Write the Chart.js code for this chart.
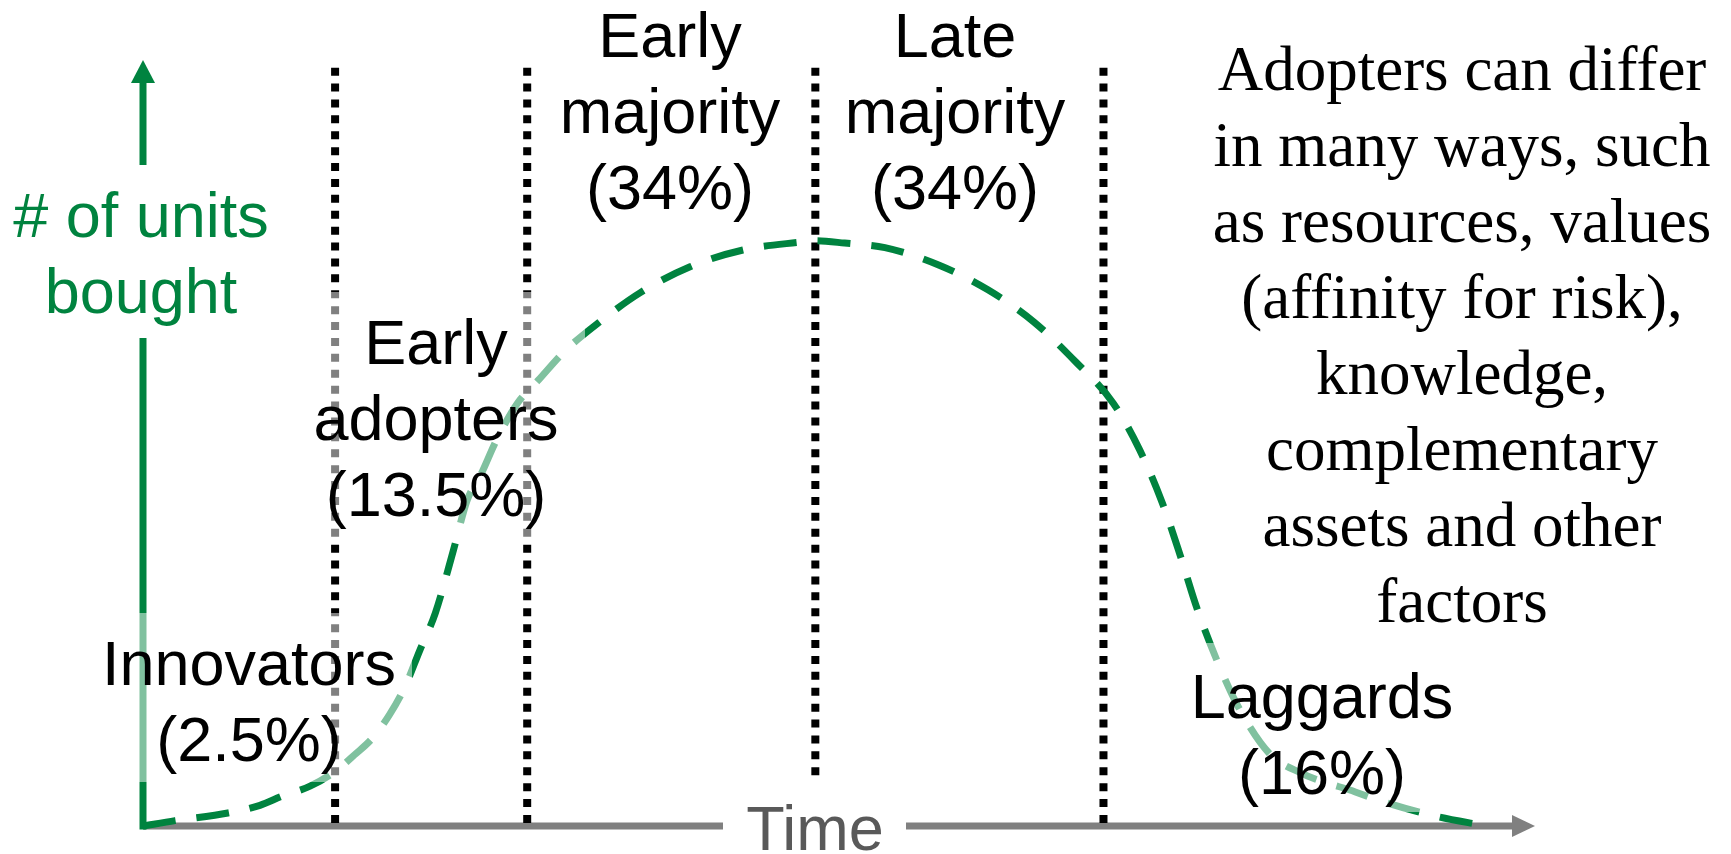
<!DOCTYPE html>
<html>
<head>
<meta charset="utf-8">
<script src="https://cdn.jsdelivr.net/npm/chart.js@4.4.1/dist/chart.umd.min.js"></script>
<style>
  body { margin: 0; background: #fff; }
  canvas { display: block; }
</style>
</head>
<body>
<canvas id="chart" width="1731" height="854"></canvas>
<script>
// adoption curve (time and units both on a 0-100 scale)
const curveTime = [0, 2.3, 6.1, 8.4, 10.0, 12.0, 13.7, 15.2, 16.5, 17.7, 18.8, 19.9, 21.0, 22.3, 23.3, 24.2,
  25.4, 26.9, 28.4, 30.3, 32.8, 35.7, 39.3, 43.1, 47.1, 48.3, 50.4, 53.3, 57.2, 60.7, 64.0, 67.0,
  69.7, 71.6, 73.2, 74.5, 75.7, 77.2, 78.7, 80.9, 83.2, 84.9, 86.7, 88.7, 92.6, 96.5];
const curveUnits = [0, 0.7, 1.7, 2.7, 3.9, 5.2, 7.0, 9.3, 11.5, 14.5, 18.1, 23.0, 27.8, 36.0, 42.6, 45.6,
  50.4, 55.2, 58.2, 62.0, 65.8, 69.6, 73.0, 75.2, 76.2, 76.4, 76.1, 75.5, 73.2, 70.0, 65.8, 60.6,
  55.2, 49.1, 42.3, 35.4, 28.5, 21.4, 15.5, 9.5, 6.9, 5.7, 4.7, 3.4, 1.4, 0];

// boundaries between adopter groups
const dividerTimes = [13.8, 27.6, 48.3, 69.0];
const dividerTop = 99;

const groupNames = ["Innovators", "Early adopters", "Early majority", "Late majority", "Laggards"];
const groupShares = ["2.5%", "13.5%", "34%", "34%", "16%"];

const yTitle = ["# of units", "bought"];
const xTitle = "Time";
const noteLines = ["Adopters can differ", "in many ways, such", "as resources, values",
  "(affinity for risk),", "knowledge,", "complementary", "assets and other", "factors"];

const green = "#00833f";
const sans = "'Liberation Sans', Arial, sans-serif";
const serif = "'Liberation Serif', 'Times New Roman', serif";
const fontSize = 63;
const lineGap = 76;

// where each group label sits (centre x, first baseline) and its see-through box
const groupLayout = [
  { x: 249, y: 685, box: [92, 613, 320, 169] },
  { x: 436, y: 364, box: [290, 292, 295, 248] },
  { x: 670, y: 57 },
  { x: 955, y: 57 },
  { x: 1322, y: 718, box: [1178, 643, 288, 169] },
];

function groupLines(i) {
  const words = groupNames[i].split(" ");
  return words.concat("(" + groupShares[i] + ")");
}

const datasets = [
  {
    label: "Adoption",
    data: curveTime.map((t, i) => ({ x: t, y: curveUnits[i] })),
    borderColor: green,
    borderWidth: 7,
    borderDash: [33, 21],
    borderCapStyle: "butt",
    cubicInterpolationMode: "monotone",
    pointRadius: 0,
    fill: false,
    clip: false,
  },
];

dividerTimes.forEach((t) => {
  datasets.push({
    label: "divider",
    data: [{ x: t, y: dividerTop }, { x: t, y: 0 }],
    borderColor: "#000",
    borderWidth: 8,
    borderDash: [8, 7.9],
    borderCapStyle: "butt",
    pointRadius: 0,
    fill: false,
    clip: false,
  });
});

function drawLines(ctx, lines, x, y) {
  lines.forEach((line, i) => ctx.fillText(line, x, y + i * lineGap));
}

const decorations = {
  id: "decorations",
  beforeDatasetsDraw(chart) {
    const { ctx, scales: { x, y } } = chart;
    const x0 = x.getPixelForValue(0);
    const y0 = y.getPixelForValue(0);
    const xEnd = x.getPixelForValue(100);
    const yEnd = y.getPixelForValue(100);
    ctx.save();

    // time axis with arrow
    ctx.strokeStyle = "#808080";
    ctx.fillStyle = "#808080";
    ctx.lineWidth = 7;
    ctx.beginPath();
    ctx.moveTo(x0, y0);
    ctx.lineTo(xEnd - 20, y0);
    ctx.stroke();
    ctx.beginPath();
    ctx.moveTo(xEnd, y0);
    ctx.lineTo(xEnd - 23, y0 - 11);
    ctx.lineTo(xEnd - 23, y0 + 11);
    ctx.closePath();
    ctx.fill();

    // units axis with arrow
    ctx.strokeStyle = green;
    ctx.fillStyle = green;
    ctx.beginPath();
    ctx.moveTo(x0, y0 + 3.5);
    ctx.lineTo(x0, yEnd + 20);
    ctx.stroke();
    ctx.beginPath();
    ctx.moveTo(x0, yEnd);
    ctx.lineTo(x0 - 12, yEnd + 23);
    ctx.lineTo(x0 + 12, yEnd + 23);
    ctx.closePath();
    ctx.fill();
    ctx.restore();
  },
  afterDatasetsDraw(chart) {
    const { ctx } = chart;
    ctx.save();

    // half-white boxes behind some labels fade the lines under them
    ctx.fillStyle = "rgba(255,255,255,0.5)";
    groupLayout.forEach((g) => {
      if (g.box) ctx.fillRect(g.box[0], g.box[1], g.box[2], g.box[3]);
    });
    // solid boxes break the axes for their titles
    ctx.fillStyle = "#fff";
    ctx.fillRect(5, 165, 275, 173);
    ctx.fillRect(723, 778, 183, 76);

    ctx.textAlign = "center";
    ctx.textBaseline = "alphabetic";
    ctx.font = fontSize + "px " + sans;

    ctx.fillStyle = green;
    drawLines(ctx, yTitle, 141, 237);

    ctx.fillStyle = "#595959";
    ctx.fillText(xTitle, 815, 850);

    ctx.fillStyle = "#000";
    groupLayout.forEach((g, i) => drawLines(ctx, groupLines(i), g.x, g.y));

    ctx.font = fontSize + "px " + serif;
    drawLines(ctx, noteLines, 1462, 90);
    ctx.restore();
  },
};

new Chart(document.getElementById("chart"), {
  type: "line",
  data: { datasets: datasets },
  options: {
    responsive: false,
    animation: false,
    devicePixelRatio: 1,
    layout: { padding: { left: 143, right: 196, top: 60, bottom: 28 } },
    plugins: { legend: { display: false }, tooltip: { enabled: false } },
    scales: {
      x: { type: "linear", min: 0, max: 100, display: false },
      y: { type: "linear", min: 0, max: 100, display: false },
    },
  },
  plugins: [decorations],
});
</script>
</body>
</html>
